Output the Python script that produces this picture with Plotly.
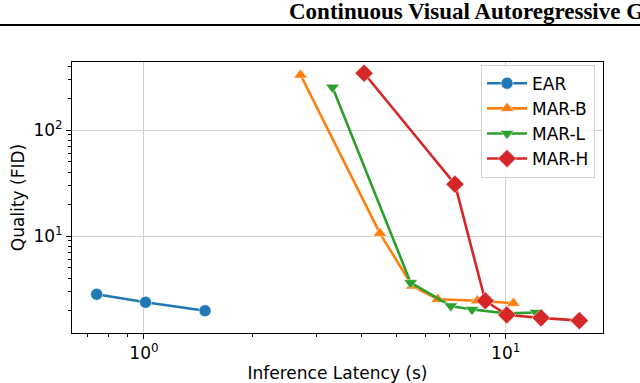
import plotly.graph_objects as go

# --- Data ---
ear_x = [0.74, 1.01, 1.475]
ear_y = [2.82, 2.37, 1.97]

marb_x = [2.71, 4.49, 5.52, 6.49, 8.35, 10.5]
marb_y = [330, 10.6, 3.37, 2.53, 2.45, 2.32]

marl_x = [3.32, 5.46, 7.05, 8.07, 10.07, 12.13]
marl_y = [253, 3.63, 2.19, 2.03, 1.86, 1.9]

marh_x = [4.06, 7.24, 8.78, 10.07, 12.52, 15.98]
marh_y = [343, 30.8, 2.45, 1.80, 1.69, 1.59]

series = [
    ("EAR", ear_x, ear_y, "#1f77b4", "circle", 12),
    ("MAR-B", marb_x, marb_y, "#ff7f0e", "triangle-up", 12),
    ("MAR-L", marl_x, marl_y, "#2ca02c", "triangle-down", 12),
    ("MAR-H", marh_x, marh_y, "#d62728", "diamond", 14),
]

fig = go.Figure()

for name, xs, ys, col, sym, sz in series:
    fig.add_trace(
        go.Scatter(
            x=xs,
            y=ys,
            mode="lines+markers",
            name=name,
            line=dict(color=col, width=2.6),
            marker=dict(
                symbol=sym,
                size=sz,
                color=col,
                line=dict(width=1, color="rgba(255,255,255,0.55)"),
            ),
        )
    )

axis_font = dict(family="DejaVu Sans", size=17, color="#000000")

fig.update_xaxes(
    type="log",
    range=[-0.199, 1.269],
    tickvals=[1, 10],
    ticktext=["10<sup>0</sup>", "10<sup>1</sup>"],
    ticks="outside",
    ticklen=5,
    tickcolor="#000000",
    showgrid=True,
    gridcolor="#d0d0d0",
    gridwidth=1,
    showline=True,
    mirror=True,
    linecolor="#000000",
    linewidth=1,
    zeroline=False,
    automargin=False,
    tickfont=axis_font,
    title=dict(text="Inference Latency (s)", font=axis_font),
    minor=dict(
        tickvals=[0.7, 0.8, 0.9, 2, 3, 4, 5, 6, 7, 8, 9],
        ticks="outside",
        ticklen=3,
        tickcolor="#000000",
        showgrid=False,
    ),
)

fig.update_yaxes(
    type="log",
    range=[0.085, 2.6415],
    tickvals=[10, 100],
    ticktext=["10<sup>1</sup>", "10<sup>2</sup>"],
    ticks="outside",
    ticklen=5,
    tickcolor="#000000",
    showgrid=True,
    gridcolor="#d0d0d0",
    gridwidth=1,
    showline=True,
    mirror=True,
    linecolor="#000000",
    linewidth=1,
    zeroline=False,
    tickfont=axis_font,
    title=dict(text="Quality (FID)", font=axis_font, standoff=4),
    minor=dict(
        tickvals=[2, 3, 4, 5, 6, 7, 8, 9, 20, 30, 40, 50, 60, 70, 80, 90, 200, 300, 400],
        ticks="outside",
        ticklen=3,
        tickcolor="#000000",
        showgrid=False,
    ),
)

# page header (paper running title, cut at the right edge) and rule
fig.add_annotation(
    text="<b>Continuous Visual Autoregressive G</b>",
    xref="paper", yref="paper",
    x=(287 - 72) / 531, y=(333 - 11) / 271,
    xanchor="left", yanchor="middle",
    showarrow=False,
    font=dict(family="Liberation Serif", size=23, color="#000000"),
)
fig.add_shape(
    type="line",
    xref="paper", yref="paper",
    x0=-72 / 531, x1=(640 - 72) / 531,
    y0=(333 - 25) / 271, y1=(333 - 25) / 271,
    line=dict(color="#000000", width=2),
)

fig.update_layout(
    width=640,
    height=383,
    margin=dict(l=72, r=37, t=62, b=50),
    plot_bgcolor="#ffffff",
    paper_bgcolor="#ffffff",
    font=dict(family="DejaVu Sans", color="#000000"),
    showlegend=True,
    legend=dict(
        x=0.985,
        y=0.99,
        xanchor="right",
        yanchor="top",
        bgcolor="rgba(255,255,255,0.8)",
        bordercolor="#d0d0d0",
        borderwidth=1,
        font=dict(family="DejaVu Sans", size=17),
        itemwidth=40,
        tracegroupgap=0,
    ),
)

# drop the default page margin so the figure sits at the window corner
fig.write_html(
    "out.html",
    config={"displayModeBar": False},
    post_script="document.body.style.margin='0';",
)
